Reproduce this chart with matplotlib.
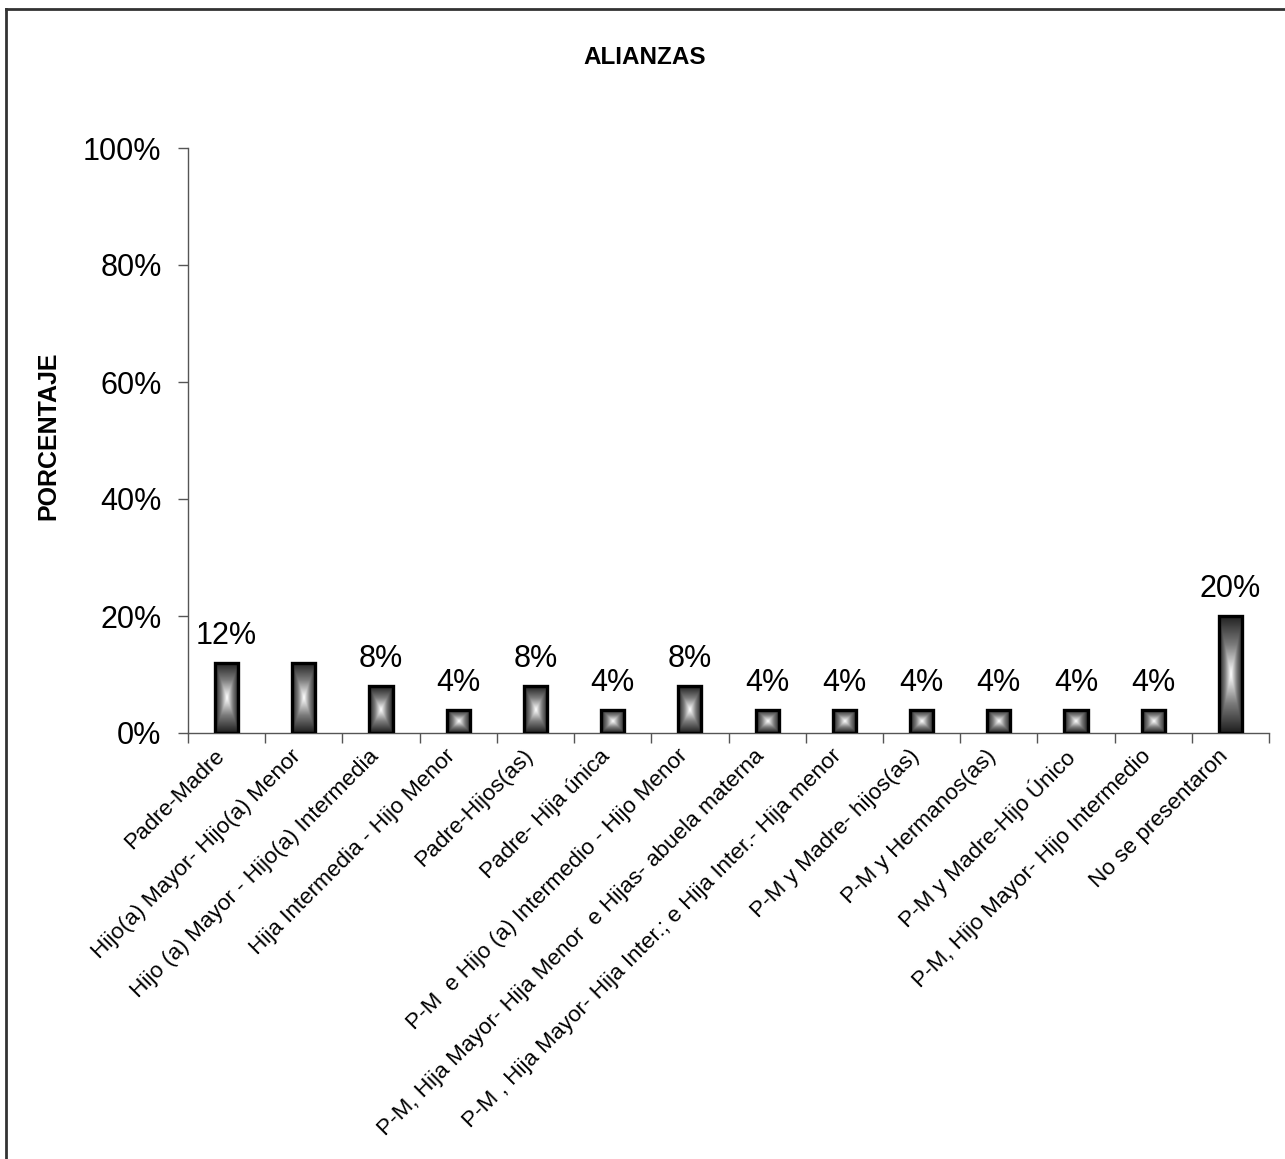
import matplotlib
matplotlib.use("Agg")
import matplotlib.pyplot as plt
import numpy as np
from matplotlib.colors import LinearSegmentedColormap
from matplotlib.ticker import PercentFormatter, FixedLocator
from matplotlib.lines import Line2D
from matplotlib.transforms import ScaledTranslation

plt.rcParams['font.family'] = ['Liberation Sans', 'DejaVu Sans']

categories = [
    "Padre-Madre",
    "Hijo(a) Mayor- Hijo(a) Menor",
    "Hijo (a) Mayor - Hijo(a) Intermedia",
    "Hija Intermedia - Hijo Menor",
    "Padre-Hijos(as)",
    "Padre- Hija única",
    "P-M  e Hijo (a) Intermedio - Hijo Menor",
    "P-M, Hija Mayor- Hija Menor  e Hijas- abuela materna",
    "P-M , Hija Mayor- Hija Inter.; e Hija Inter.- Hija menor",
    "P-M y Madre- hijos(as)",
    "P-M y Hermanos(as)",
    "P-M y Madre-Hijo Único",
    "P-M, Hijo Mayor- Hijo Intermedio",
    "No se presentaron",
]
values = [12, 12, 8, 4, 8, 4, 8, 4, 4, 4, 4, 4, 4, 20]
value_labels = ["12%", "", "8%", "4%", "8%", "4%", "8%", "4%", "4%", "4%", "4%", "4%", "4%", "20%"]
yticks = [0, 20, 40, 60, 80, 100]

fig = plt.figure(figsize=(12.85, 11.59), dpi=100)
ax = fig.add_axes([188/1285, 1-733/1159, (1269-188)/1285, (733-148)/1159])

x = np.arange(len(categories))
bars = ax.bar(x, values, width=0.3, facecolor='none', edgecolor='black', linewidth=2.4, zorder=3)

cmap = LinearSegmentedColormap.from_list("g", ["#1e1e1e", "#7a7a7a", "#ffffff"])
n = 200
u = np.linspace(-1, 1, n)
U, V = np.meshgrid(u, u)
T = np.maximum(np.abs(U), np.abs(V))
grad = 1 - T
for b in bars:
    x0, y0 = b.get_x(), b.get_y()
    w, h = b.get_width(), b.get_height()
    im = ax.imshow(grad, cmap=cmap, extent=[x0, x0 + w, y0, y0 + h], aspect='auto',
                   origin='lower', zorder=2, interpolation='bilinear')
    im.set_clip_path(b)

for xi, v, lab in zip(x, values, value_labels):
    if lab:
        ax.annotate(lab, (xi, v), xytext=(0, 13.5), textcoords='offset points',
                    ha='center', va='baseline', fontsize=22)

ax.set_xlim(-0.5, len(categories) - 0.5)
ax.set_ylim(0, 100)
ax.yaxis.set_major_locator(FixedLocator(yticks))
ax.yaxis.set_major_formatter(PercentFormatter(100, decimals=0))
ax.tick_params(axis='y', labelsize=22, length=7, width=1, color='#555555', pad=12)

ax.set_xticks(x)
ax.set_xticklabels(categories, rotation=45, ha='right', va='top', rotation_mode='anchor', fontsize=16.2)
ax.tick_params(axis='x', which='major', length=0, pad=9)
shift = ScaledTranslation(-13/100, 0, fig.dpi_scale_trans)
for lbl in ax.get_xticklabels():
    lbl.set_transform(lbl.get_transform() + shift)
ax.set_xticks(np.arange(len(categories) + 1) - 0.5, minor=True)
ax.tick_params(axis='x', which='minor', length=7, width=1, color='#555555')

for s in ['top', 'right']:
    ax.spines[s].set_visible(False)
for s in ['left', 'bottom']:
    ax.spines[s].set_color('#555555')
    ax.spines[s].set_linewidth(1)

fig.text(645/1285, 1-57/1159, "ALIANZAS", ha='center', va='center', fontsize=17.5, fontweight='bold')
fig.text(48/1285, 1-436/1159, "PORCENTAJE", ha='center', va='center', rotation=90,
         fontsize=18, fontweight='bold')

# outer border (top and left)
fig.add_artist(Line2D([5.5/1285, 5.5/1285], [0, 1-8.5/1159], transform=fig.transFigure,
                      color='#333333', lw=2))
fig.add_artist(Line2D([5.5/1285, 1], [1-8.5/1159, 1-8.5/1159], transform=fig.transFigure,
                      color='#333333', lw=2))

fig.savefig("out.png", dpi=100, facecolor='white')
